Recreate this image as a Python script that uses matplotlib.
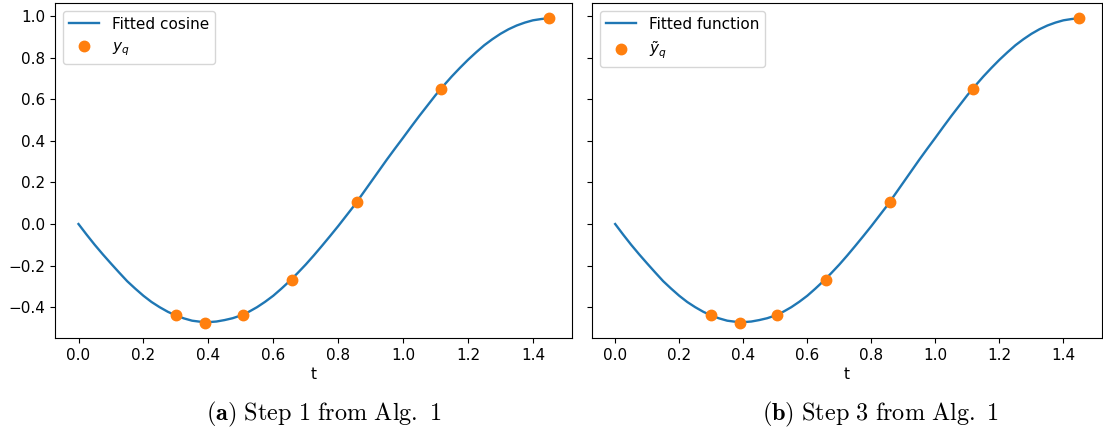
import numpy as np
import matplotlib
matplotlib.use("Agg")
import matplotlib.pyplot as plt

plt.rcParams['font.size'] = 11

# fitted curve
t_curve = [0.000, 0.025, 0.050, 0.075, 0.100, 0.125, 0.150, 0.175, 0.200, 0.225,
           0.250, 0.275, 0.300, 0.325, 0.350, 0.375, 0.400, 0.425, 0.450, 0.475,
           0.500, 0.525, 0.550, 0.575, 0.600, 0.625, 0.650, 0.675, 0.700, 0.725,
           0.750, 0.775, 0.800, 0.825, 0.850, 0.875, 0.900, 0.925, 0.950, 0.975,
           1.000, 1.025, 1.050, 1.075, 1.100, 1.125, 1.150, 1.175, 1.200, 1.225,
           1.250, 1.275, 1.300, 1.325, 1.350, 1.375, 1.400, 1.425, 1.448]
y_curve = [0.000, -0.051, -0.100, -0.146, -0.190, -0.233, -0.275, -0.311, -0.345, -0.375,
           -0.400, -0.422, -0.440, -0.454, -0.465, -0.470, -0.472, -0.469, -0.462, -0.453,
           -0.440, -0.422, -0.400, -0.374, -0.345, -0.311, -0.275, -0.236, -0.195, -0.151,
           -0.105, -0.058, -0.010, 0.040, 0.090, 0.145, 0.200, 0.255, 0.310, 0.363,
           0.415, 0.468, 0.520, 0.570, 0.620, 0.666, 0.710, 0.751, 0.790, 0.826,
           0.860, 0.889, 0.915, 0.937, 0.955, 0.969, 0.980, 0.986, 0.990]

# sample points
t_pts = [0.300, 0.389, 0.506, 0.659, 0.857, 1.116, 1.448]
y_pts = [-0.44, -0.475, -0.44, -0.27, 0.105, 0.648, 0.99]

curve_labels = ['Fitted cosine', 'Fitted function']
point_labels = [r'$y_q$', r'$\tilde{y}_q$']
captions = [r'$\mathbf{(a)}\ \mathrm{Step\ 1\ from\ Alg.\ 1}$',
            r'$\mathbf{(b)}\ \mathrm{Step\ 3\ from\ Alg.\ 1}$']

fig = plt.figure(figsize=(11.03, 4.37), dpi=100)
ax1 = fig.add_axes([55/1103, (437-338)/437, (572-55)/1103, (338-3)/437])
ax2 = fig.add_axes([592/1103, (437-338)/437, (1102-592)/1103, (338-3)/437], sharey=ax1)

for i, ax in enumerate([ax1, ax2]):
    ax.plot(t_curve, y_curve, color='#1f77b4', lw=1.7, label=curve_labels[i])
    ax.plot(t_pts, y_pts, 'o', color='#ff7f0e', ms=7.5, label=point_labels[i])
    ax.set_xlabel('t', labelpad=3)
    ax.legend(loc='upper left')

plt.setp(ax2.get_yticklabels(), visible=False)

fig.text(324/1103, 1 - 414/437, captions[0], ha='center', va='center', fontsize=17.5,
         math_fontfamily='cm')
fig.text(880/1103, 1 - 414/437, captions[1], ha='center', va='center', fontsize=17.5,
         math_fontfamily='cm')

fig.savefig('out.png', dpi=100)
